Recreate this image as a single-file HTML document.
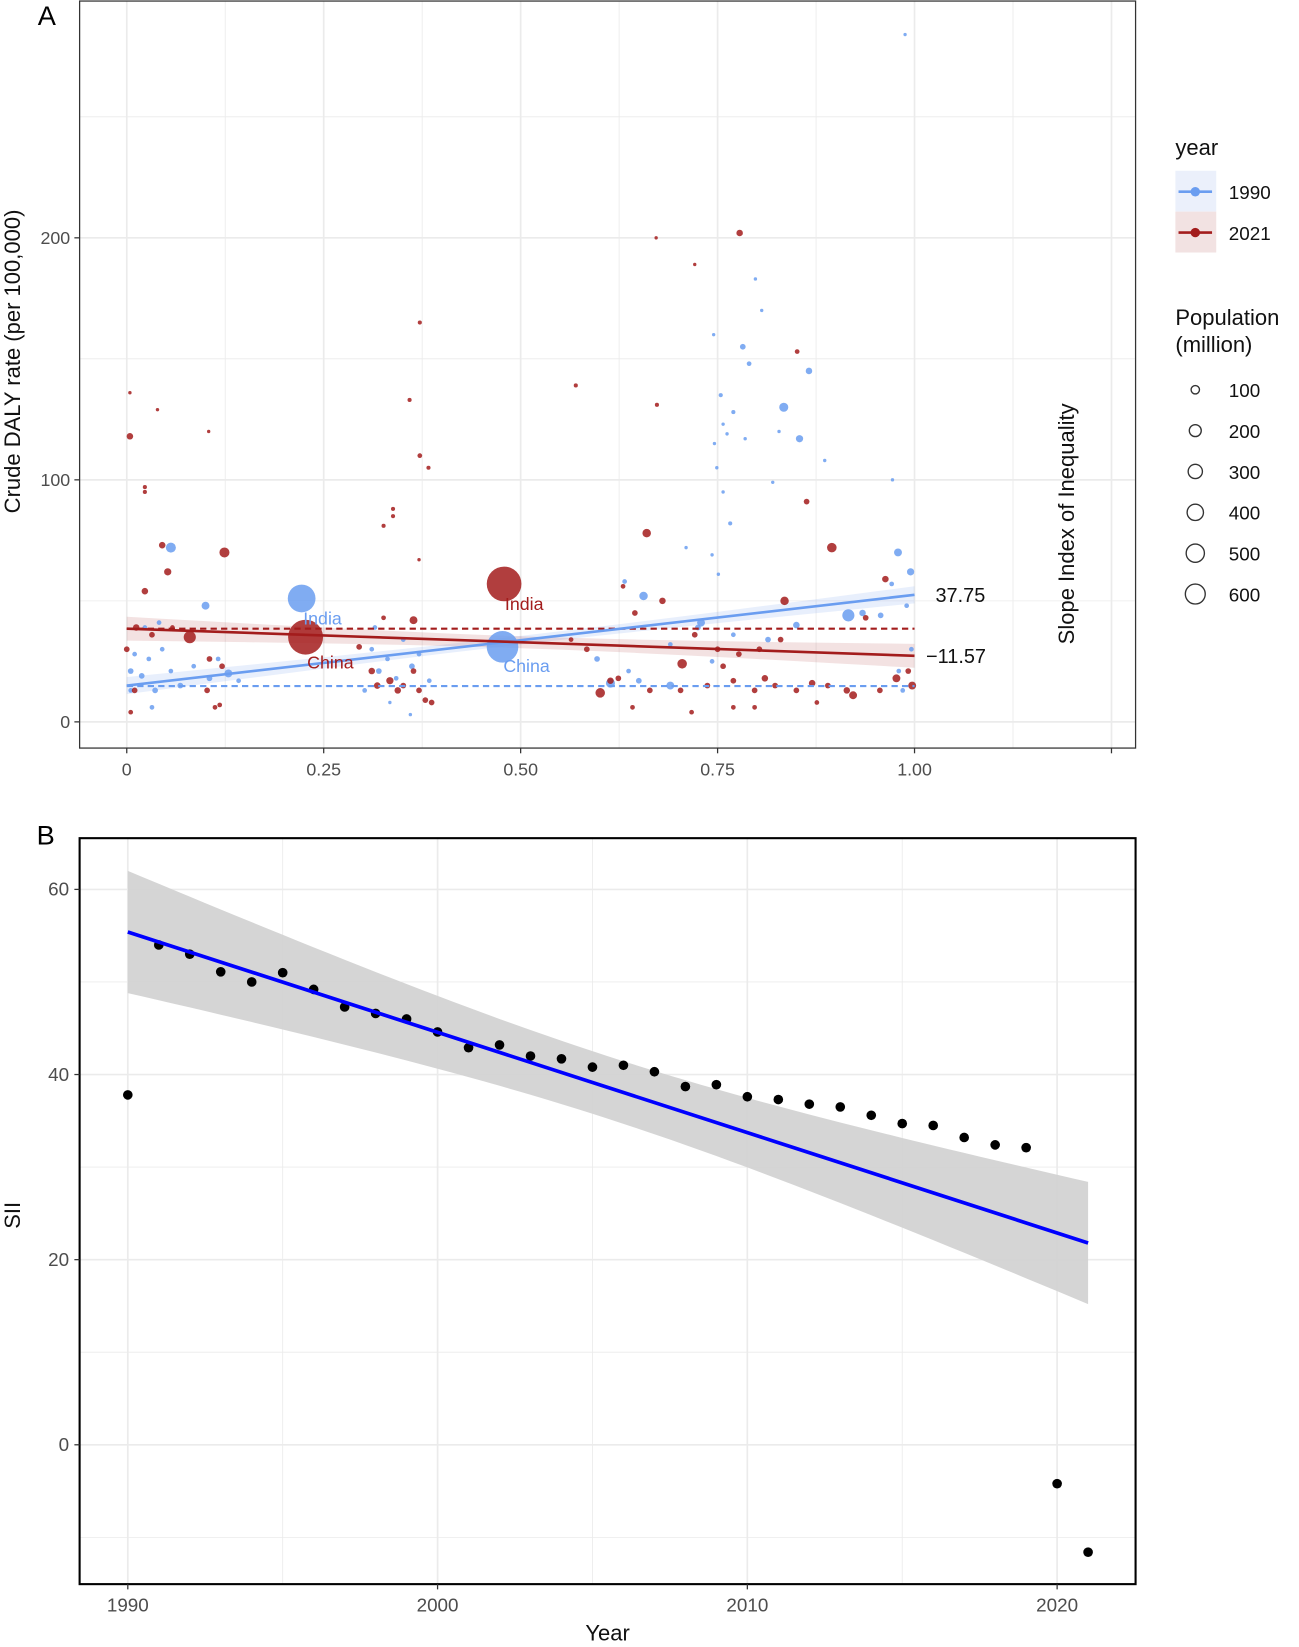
<!DOCTYPE html>
<html><head><meta charset="utf-8"><style>
html,body{margin:0;padding:0;background:#fff;}
svg{display:block;font-family:"Liberation Sans",sans-serif;}
</style></head><body>
<svg id="fig" width="1299" height="1647" viewBox="0 0 1240 1572" preserveAspectRatio="none" xmlns="http://www.w3.org/2000/svg">
<g id="pa"></g>
<g id="pb"></g>
</svg>
<script>
// ---------- Panel A data ----------
const blueRank=[.988,.056,.10,.222,.477,.129,.656,.834,.854,.866,.798,.782,.79,.754,.77,.757,.762,.785,.746,.749,.757,.766,.743,.751,.71,.82,.886,.828,.806,.745,.934,.916,.979,.995,.957,.971,.632,.614,.69,.65,.637,.597,.69,.725,.77,.85,.814,.729,.743,.005,.01,.019,.028,.036,.045,.056,.068,.085,.105,.116,.142,.032,.023,.041,.005,.311,.32,.331,.342,.351,.362,.371,.302,.334,.36,.315,.384,.99,.996,.98,.985,.972];
const blueRate=[284,72,48,51,31,20,52,130,117,145,183,155,148,135,128,123,119,117,115,105,95,82,69,61,72,99,108,120,170,160,45,44,70,62,44,57,58,16,15,17,21,26,32,39,36,40,34,41,25,13,28,19,26,13,30,21,15,23,18,26,17,6,39,41,21,30,21,26,18,34,23,28,13,8,3,39,17,48,30,21,13,100];
const bluePop=[3,100,60,870,1150,60,70,80,50,40,10,30,20,15,15,10,10,10,10,10,10,15,10,10,10,10,10,10,10,8,40,150,60,50,30,20,20,80,60,30,20,30,20,30,20,40,30,60,20,20,20,30,20,30,20,20,30,20,30,20,20,20,20,20,30,20,30,20,20,20,30,20,20,10,10,20,20,20,20,20,20,5];
const redRank=[.479,.227,.08,.124,.004,.004,.023,.023,.023,.039,.045,.052,.104,.372,.359,.372,.383,.338,.338,.326,.371,.364,.57,.672,.721,.673,.778,.851,.863,.895,.835,.705,.66,.601,.68,.645,.614,.624,.721,.757,.81,.87,.922,.977,.992,.963,.938,.997,.956,.914,.642,.664,.703,.737,.77,.797,.823,.85,.89,.75,.777,.803,.83,.63,.584,.564,.717,.77,.797,.876,.0,.01,.005,.102,.112,.121,.105,.118,.311,.318,.334,.344,.351,.379,.387,.364,.371,.295,.326,.012,.032,.058];
const redRate=[57,35,35,70,118,136,54,97,95,129,73,62,120,165,133,110,105,88,85,81,67,42,139,200,189,131,202,153,91,72,50,24,78,12,50,45,17,18,36,23,18,16,11,18,21,59,43,15,13,13,6,13,13,15,17,13,15,13,15,30,28,30,34,56,30,34,4,6,6,8,30,13,4,13,6,23,26,7,21,15,17,13,15,9,8,21,13,31,43,39,36,39];
const redPop=[1400,1420,150,100,40,10,40,15,15,10,40,50,5,15,15,20,15,15,15,15,10,60,15,8,8,15,40,20,30,90,70,90,70,90,40,30,40,30,30,30,40,40,60,60,30,40,30,60,30,40,20,30,30,30,30,30,30,30,30,30,30,30,30,20,30,20,20,20,20,20,30,30,20,30,20,30,30,20,40,40,50,40,30,30,30,30,30,30,20,40,30,20];
const xTicksA=[0,0.25,0.5,0.75,1.0];
const xTickLabelsA=["0","0.25","0.50","0.75","1.00"];
const yTicksA=[0,100,200];
const sizeLegend=[100,200,300,400,500,600];
const blueFit=[15,52.5];
const redFit=[38.5,27.3];
const blueMean=[14.8];
const redMean=[38.5];
const siiLabels=["37.75","\u221211.57"];

// ---------- Panel B data ----------
const years=[1990,1991,1992,1993,1994,1995,1996,1997,1998,1999,2000,2001,2002,2003,2004,2005,2006,2007,2008,2009,2010,2011,2012,2013,2014,2015,2016,2017,2018,2019,2020,2021];
const sii=[37.8,54,53,51.1,50,51,49.2,47.3,46.6,46,44.6,42.9,43.2,42,41.7,40.8,41,40.3,38.7,38.9,37.6,37.3,36.8,36.5,35.6,34.7,34.5,33.2,32.4,32.1,-4.2,-11.6];
const xTicksB=[1990,2000,2010,2020];
const yTicksB=[0,20,40,60];

const NS="http://www.w3.org/2000/svg";
function mk(parent,tag,attrs,text){const e=document.createElementNS(NS,tag);for(const k in attrs)e.setAttribute(k,attrs[k]);if(text!==undefined)e.textContent=text;parent.appendChild(e);return e;}

// ================= PANEL A =================
const pa=document.getElementById('pa');
const AX=v=>121+v*752, AY=v=>689-v*2.31;
const A={l:76,r:1084,t:1,b:714};
for(let v=-0.125;v<=1.3;v+=0.125){const x=AX(v);if(x<A.l||x>A.r)continue;
 const g=mk(pa,'line',{x1:x,x2:x,y1:A.t,y2:A.b,stroke:'#ebebeb','stroke-width':Math.abs(v*4-Math.round(v*4))<1e-6?1.6:0.8});
 }
for(let v=0;v<=275;v+=50){const y=AY(v);
 const g=mk(pa,'line',{x1:A.l,x2:A.r,y1:y,y2:y,stroke:'#ebebeb','stroke-width':v%100===0?1.6:0.8});
 }
function band(fit,hw,color){const pts=[];for(let i=0;i<=20;i++){const t=i/20;const m=fit[0]+(fit[1]-fit[0])*t;const h=hw*Math.sqrt(1/8+(t-0.5)**2*1.5);pts.push([AX(t),AY(m+h)]);}
 for(let i=20;i>=0;i--){const t=i/20;const m=fit[0]+(fit[1]-fit[0])*t;const h=hw*Math.sqrt(1/8+(t-0.5)**2*1.5);pts.push([AX(t),AY(m-h)]);}
 return mk(pa,'polygon',{points:pts.map(p=>p.join(',')).join(' '),fill:color});}
const bb=band(blueFit,5,'rgba(100,149,237,0.15)');
const rb=band(redFit,7,'rgba(165,34,34,0.13)');
const BLUE='#6a9df0',RED='#a31c1c';
const rOf=p=>Math.max(1.6,0.55*Math.sqrt(p)*Math.pow(p,-0.03));
function pts(rank,rate,pop,color,name){
 const order=rank.map((_,i)=>i).sort((a,b)=>pop[b]-pop[a]);
 for(const i of order){const c=mk(pa,'circle',{cx:AX(rank[i]),cy:AY(rate[i]),r:rOf(pop[i]),fill:color,'fill-opacity':0.85});
  }}
pts(blueRank,blueRate,bluePop,BLUE,'point-1990');
pts(redRank,redRate,redPop,RED,'point-2021');
let l=mk(pa,'line',{x1:AX(0),x2:AX(1),y1:AY(blueMean[0]),y2:AY(blueMean[0]),stroke:BLUE,'stroke-width':2,'stroke-dasharray':'6,4'});
l=mk(pa,'line',{x1:AX(0),x2:AX(1),y1:AY(redMean[0]),y2:AY(redMean[0]),stroke:RED,'stroke-width':2,'stroke-dasharray':'6,4'});
l=mk(pa,'line',{x1:AX(0),x2:AX(1),y1:AY(blueFit[0]),y2:AY(blueFit[1]),stroke:BLUE,'stroke-width':2.5});
l=mk(pa,'line',{x1:AX(0),x2:AX(1),y1:AY(redFit[0]),y2:AY(redFit[1]),stroke:RED,'stroke-width':2.5});
let t;
t=mk(pa,'text',{x:AX(.224),y:AY(51)+25,'font-size':17,fill:BLUE},'India');
t=mk(pa,'text',{x:AX(.478),y:AY(31)+24,'font-size':17,fill:BLUE},'China');
t=mk(pa,'text',{x:AX(.48),y:AY(57)+25,'font-size':17,fill:RED},'India');
t=mk(pa,'text',{x:AX(.229),y:AY(35)+30,'font-size':17,fill:RED},'China');
t=mk(pa,'text',{x:893,y:AY(blueFit[1])+7,'font-size':19,fill:'#111'},siiLabels[0]);
t=mk(pa,'text',{x:884,y:AY(redFit[1])+7,'font-size':19,fill:'#111'},siiLabels[1]);
t=mk(pa,'text',{x:0,y:0,'font-size':21,fill:'#111','text-anchor':'middle',transform:'translate(1025,500) rotate(-90)'},'Slope Index of Inequality');
let r=mk(pa,'rect',{x:A.l,y:A.t,width:A.r-A.l,height:A.b-A.t,fill:'none',stroke:'#333','stroke-width':1.2});
xTicksA.concat([1.25]).forEach((v,i)=>{const x=AX(v);
 const k=mk(pa,'line',{x1:x,x2:x,y1:A.b,y2:A.b+5,stroke:'#333','stroke-width':1.2});
 if(i<xTickLabelsA.length){const tt=mk(pa,'text',{x:x,y:740,'font-size':17,fill:'#4d4d4d','text-anchor':'middle'},xTickLabelsA[i]);}});
yTicksA.forEach(v=>{const y=AY(v);
 const k=mk(pa,'line',{x1:A.l-5,x2:A.l,y1:y,y2:y,stroke:'#333','stroke-width':1.2});
 const tt=mk(pa,'text',{x:A.l-9,y:y+6,'font-size':17,fill:'#4d4d4d','text-anchor':'end'},String(v));});
t=mk(pa,'text',{x:0,y:0,'font-size':21,fill:'#111','text-anchor':'middle',transform:'translate(19,345) rotate(-90)'},'Crude DALY rate (per 100,000)');
t=mk(pa,'text',{x:36,y:24,'font-size':26,fill:'#000'},'A');
t=mk(pa,'text',{x:1122,y:148,'font-size':21,fill:'#111'},'year');
r=mk(pa,'rect',{x:1122,y:163,width:39,height:39,fill:'#ebf0fb'});
r=mk(pa,'rect',{x:1122,y:202,width:39,height:39,fill:'#f2e2e2'});
[[183,BLUE,'1990'],[222,RED,'2021']].forEach(([y,c,s])=>{
 const a=mk(pa,'line',{x1:1125,x2:1157,y1:y,y2:y,stroke:c,'stroke-width':2.5});
 const b=mk(pa,'circle',{cx:1141,cy:y,r:4.5,fill:c});
 const tt=mk(pa,'text',{x:1173,y:y+7,'font-size':18,fill:'#111'},s);});
t=mk(pa,'text',{x:1122,y:310,'font-size':21,fill:'#111'},'Population');
t=mk(pa,'text',{x:1122,y:336,'font-size':21,fill:'#111'},'(million)');
sizeLegend.forEach((p,i)=>{const y=372+i*39;
 const c=mk(pa,'circle',{cx:1141,cy:y,r:[4,5.7,6.8,7.8,8.7,9.5][i],fill:'none',stroke:'#333','stroke-width':1.3});
 const tt=mk(pa,'text',{x:1173,y:y+7,'font-size':18,fill:'#111'},String(p));});

// ================= PANEL B =================
const pb=document.getElementById('pb');
const BX=v=>122+(v-1990)*29.57, BY=v=>1379-v*8.835;
const B={l:76,r:1084,t:800,b:1512};
for(let v=1985;v<=2025;v+=5){const x=BX(v);if(x<B.l||x>B.r)continue;
 const g=mk(pb,'line',{x1:x,x2:x,y1:B.t,y2:B.b,stroke:'#ebebeb','stroke-width':v%10===0?1.6:0.8});}
for(let v=-10;v<=60;v+=10){const y=BY(v);
 const g=mk(pb,'line',{x1:B.l,x2:B.r,y1:y,y2:y,stroke:'#ebebeb','stroke-width':v%20===0?1.6:0.8});}
const fitStart=55.4, fitEnd=21.8;
const n=years.length, mean=(years[0]+years[n-1])/2;
let sxx=0;years.forEach(y=>sxx+=(y-mean)**2);
const aCI=6.6/Math.sqrt(1/n+(years[0]-mean)**2/sxx);
const fitAt=y=>fitStart+(fitEnd-fitStart)*(y-years[0])/(years[n-1]-years[0]);
const hwAt=y=>aCI*Math.sqrt(1/n+(y-mean)**2/sxx);
const up=[],dn=[];
for(let y=years[0];y<=years[n-1]+1e-9;y+=0.5){up.push([BX(y),BY(fitAt(y)+hwAt(y))]);dn.unshift([BX(y),BY(fitAt(y)-hwAt(y))]);}
const poly=mk(pb,'polygon',{points:up.concat(dn).map(p=>p.join(',')).join(' '),fill:'#d3d3d3','fill-opacity':0.95});

years.forEach((y,i)=>{const c=mk(pb,'circle',{cx:BX(y),cy:BY(sii[i]),r:4.6,fill:'#000'});
 });
l=mk(pb,'line',{x1:BX(years[0]),x2:BX(years[n-1]),y1:BY(fitStart),y2:BY(fitEnd),stroke:'#0000ff','stroke-width':3.5});

r=mk(pb,'rect',{x:B.l,y:B.t,width:B.r-B.l,height:B.b-B.t,fill:'none',stroke:'#000','stroke-width':2});
xTicksB.forEach(v=>{const x=BX(v);
 const k=mk(pb,'line',{x1:x,x2:x,y1:B.b,y2:B.b+5,stroke:'#333','stroke-width':1.2});
 const tt=mk(pb,'text',{x:x,y:1538,'font-size':18,fill:'#4d4d4d','text-anchor':'middle'},String(v));});
yTicksB.forEach(v=>{const y=BY(v);
 const k=mk(pb,'line',{x1:B.l-5,x2:B.l,y1:y,y2:y,stroke:'#333','stroke-width':1.2});
 const tt=mk(pb,'text',{x:B.l-10,y:y+6,'font-size':18,fill:'#4d4d4d','text-anchor':'end'},String(v));});
t=mk(pb,'text',{x:580,y:1566,'font-size':21,fill:'#111','text-anchor':'middle'},'Year');
t=mk(pb,'text',{x:0,y:0,'font-size':21,fill:'#111','text-anchor':'middle',transform:'translate(19,1160) rotate(-90)'},'SII');
t=mk(pb,'text',{x:35,y:806,'font-size':26,fill:'#000'},'B');
</script>
</body></html>
